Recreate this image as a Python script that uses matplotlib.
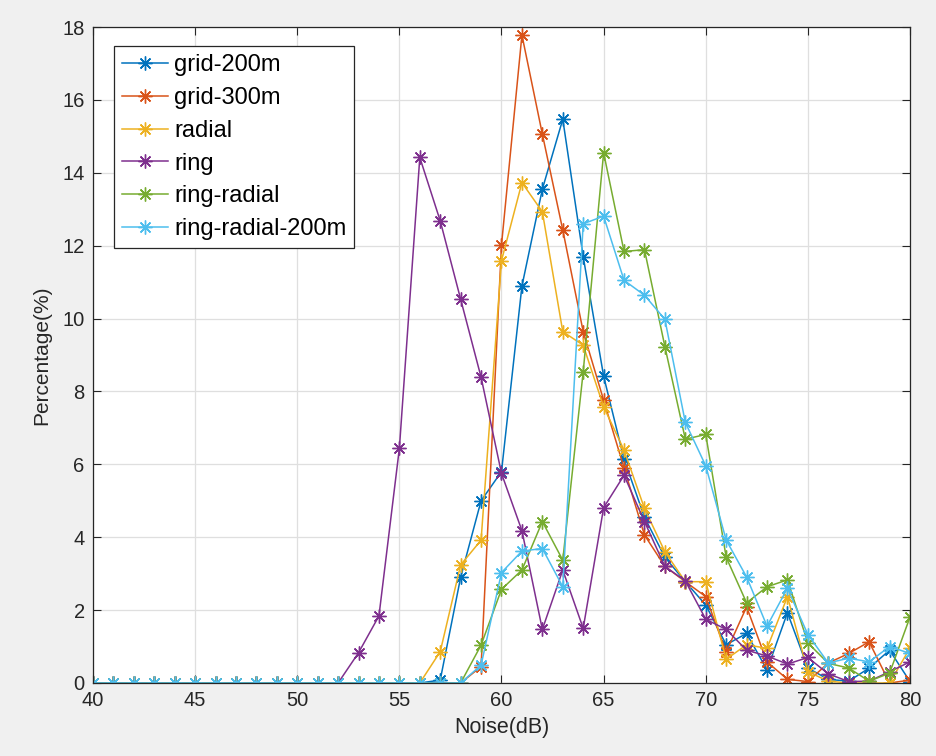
import numpy as np
import matplotlib
matplotlib.use("Agg")
import matplotlib.pyplot as plt

plt.rcParams['font.family'] = ['Liberation Sans', 'DejaVu Sans']

# noise levels (dB)
noise = np.arange(40, 81)

grid_200 = [0] * 17 + [0.08, 2.9, 5.0, 5.8, 10.89, 13.55, 15.47, 11.7, 8.42, 6.14, 4.55, 3.45,
                       2.78, 2.14, 1.05, 1.36, 0.36, 1.93, 0.41, 0.1, 0.05, 0.41, 0.9, 0.04]
grid_300 = [0] * 19 + [0.45, 12.02, 17.78, 15.06, 12.43, 9.64, 7.76, 5.9, 4.06, 3.2, 2.78,
                       2.37, 0.85, 2.09, 0.58, 0.1, 0.04, 0.55, 0.81, 1.13, 0.0, 0.08]
radial = [0] * 17 + [0.86, 3.24, 3.92, 11.59, 13.73, 12.93, 9.64, 9.27, 7.58, 6.39, 4.79, 3.6,
                     2.78, 2.78, 0.65, 1.05, 0.95, 2.37, 0.31, 0.05, 0.0, 0.0, 0.0, 0.96]
ring = [0] * 12 + [0.0, 0.83, 1.84, 6.44, 14.42, 12.68, 10.53, 8.39, 5.75, 4.18, 1.47, 3.1,
                   1.5, 4.81, 5.7, 4.43, 3.2, 2.8, 1.75, 1.47, 0.9, 0.74, 0.52, 0.7, 0.25,
                   0.04, 0.05, 0.31, 0.58]
ring_radial = [0] * 19 + [1.04, 2.57, 3.1, 4.43, 3.37, 8.54, 14.55, 11.84, 11.89, 9.23, 6.69,
                          6.82, 3.45, 2.2, 2.64, 2.83, 1.1, 0.54, 0.41, 0.05, 0.27, 1.81]
ring_radial_200 = [0] * 19 + [0.49, 3.03, 3.62, 3.69, 2.64, 12.6, 12.81, 11.05, 10.64, 9.98,
                              7.15, 5.96, 3.92, 2.91, 1.56, 2.6, 1.33, 0.55, 0.68, 0.58, 1.0, 0.81]

series = [grid_200, grid_300, radial, ring, ring_radial, ring_radial_200]
labels = ["grid-200m", "grid-300m", "radial", "ring", "ring-radial", "ring-radial-200m"]
colors = ["#0072BD", "#D95319", "#EDB120", "#7E2F8E", "#77AC30", "#4DBEEE"]

fig = plt.figure(figsize=(9.37, 7.56), dpi=100)
fig.patch.set_facecolor("#F0F0F0")
ax = fig.add_axes([93 / 937, 1 - 683 / 756, (910 - 93) / 937, (683 - 27) / 756])

for y, lab, c in zip(series, labels, colors):
    ax.plot(noise, y, color=c, lw=1.1, marker=(8, 2, 0), markersize=10,
            markeredgewidth=1.0, label=lab)

ax.set_xlim(40, 80)
ax.set_ylim(0, 18)
ax.set_xticks(np.arange(40, 81, 5))
ax.set_yticks(np.arange(0, 19, 2))
ax.grid(True, color="#DFDFDF", lw=0.9)
ax.set_axisbelow(True)
ax.tick_params(direction="in", length=6, width=0.8, top=True, right=True,
               labelsize=14.5, colors="#262626", pad=6)
for s in ax.spines.values():
    s.set_color("#262626")
    s.set_linewidth(0.9)

ax.set_xlabel("Noise(dB)", fontsize=15.5, color="#262626", labelpad=5)
ax.set_ylabel("Percentage(%)", fontsize=15, color="#262626", labelpad=8)

leg = ax.legend(loc="upper left", bbox_to_anchor=(0.0257, 0.971), fontsize=17,
                frameon=True, fancybox=False, edgecolor="#262626", framealpha=1,
                handlelength=1.95, handletextpad=0.25, labelspacing=0.46,
                borderpad=0.34, borderaxespad=0)
leg.get_frame().set_linewidth(0.9)

fig.savefig("out.png", dpi=100, facecolor=fig.get_facecolor())
